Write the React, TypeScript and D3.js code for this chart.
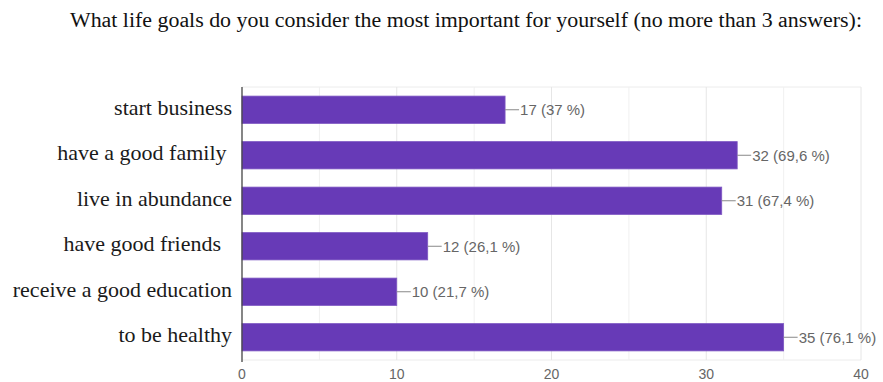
import React from "react";
import * as d3 from "d3";

const title = "What life goals do you consider the most important for yourself (no more than 3 answers):";
const categories = [
  "start business",
  "have a good family ",
  "live in abundance",
  "have good friends  ",
  "receive a good education",
  "to be healthy",
];
const counts = [17, 32, 31, 12, 10, 35];
const percents = ["37 %", "69,6 %", "67,4 %", "26,1 %", "21,7 %", "76,1 %"];
const xTicks = [0, 10, 20, 30, 40];
const gridTicks = [5, 10, 15, 20, 25, 30, 35, 40];

const W = 883;
const H = 382;
const left = 242;
const right = 861;
const top = 87;
const bottom = 360;

export default function App() {
  const x = d3.scaleLinear().domain([0, 40]).range([left, right]);
  const y = d3
    .scaleBand<string>()
    .domain(categories)
    .range([top, bottom])
    .paddingInner(0.4)
    .paddingOuter(0.2);
  const bh = y.bandwidth();

  return (
    <svg
      width={W}
      height={H}
      style={{ position: "fixed", left: 0, top: 0, background: "#fff" }}
    >
      <rect x={0} y={0} width={W} height={H} fill="#fff" />
      <text
        x={70}
        y={27}
        fontFamily="'Liberation Serif', 'Times New Roman', serif"
        fontSize={20}
        fill="#111"
        textLength={792}
        lengthAdjust="spacingAndGlyphs"
      >
        {title}
      </text>

      {/* frame and gridlines */}
      <line x1={left} x2={right} y1={top} y2={top} stroke="#ececec" />
      <line x1={left} x2={right} y1={bottom} y2={bottom} stroke="#ececec" />
      {gridTicks.map((t) => (
        <line
          key={t}
          x1={x(t)}
          x2={x(t)}
          y1={top}
          y2={bottom}
          stroke={t % 10 === 0 ? "#e6e6e6" : "#f0f0f0"}
        />
      ))}

      {/* bars */}
      {categories.map((c, i) => {
        const yy = y(c)!;
        const xe = x(counts[i]);
        return (
          <g key={c}>
            <rect
              x={x(0)}
              y={yy}
              width={xe - x(0)}
              height={bh}
              fill="#673ab7"
              stroke="#7e57c2"
              strokeWidth={0.8}
            />
            <line
              x1={xe}
              x2={xe + 14}
              y1={yy + bh / 2}
              y2={yy + bh / 2}
              stroke="#888"
              strokeWidth={1}
            />
            <text
              x={xe + 15}
              y={yy + bh / 2}
              dy="0.36em"
              fontFamily="'Liberation Sans', Arial, sans-serif"
              fontSize={15}
              fill="#666"
            >
              {`${counts[i]} (${percents[i]})`}
            </text>
            <g transform={`translate(232,${yy + bh / 2}) scale(1.1,1)`}>
              <text
                x={0}
                y={0}
                dy="0.24em"
                textAnchor="end"
                fontFamily="'Liberation Serif', 'Times New Roman', serif"
                fontSize={20}
                fill="#1a1a1a"
                style={{ whiteSpace: "pre" }}
              >
                {c}
              </text>
            </g>
          </g>
        );
      })}

      {/* axis line */}
      <line x1={x(0)} x2={x(0)} y1={top} y2={bottom + 2} stroke="#444" strokeWidth={1.3} />

      {/* tick labels */}
      {xTicks.map((t) => (
        <text
          key={t}
          x={x(t)}
          y={379}
          textAnchor="middle"
          fontFamily="'Liberation Sans', Arial, sans-serif"
          fontSize={14}
          fill="#666"
        >
          {t}
        </text>
      ))}
    </svg>
  );
}
